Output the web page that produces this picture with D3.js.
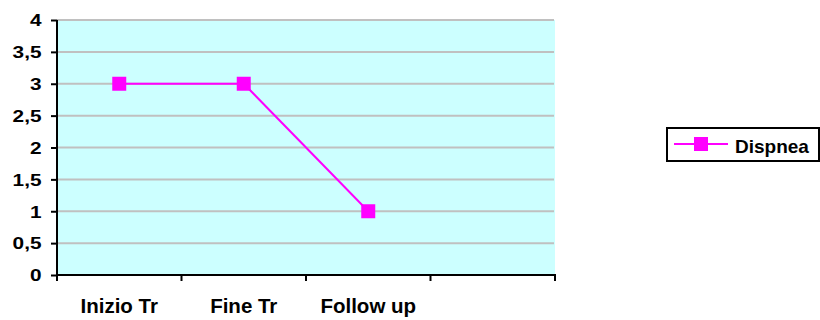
<!DOCTYPE html>
<html>
<head>
<meta charset="utf-8">
<script src="https://cdn.jsdelivr.net/npm/d3@7"></script>
<style>
  html, body { margin: 0; padding: 0; background: #fff; }
  svg { display: block; }
  text { font-family: "Liberation Sans", Arial, sans-serif; font-weight: bold; }
</style>
</head>
<body>
<svg id="chart" width="820" height="320"></svg>
<script>
// Category slots on the x axis (the last slot is left empty)
const categories = ["Inizio Tr", "Fine Tr", "Follow up", ""];
// Dispnea score at each stage
const dispnea = [3, 3, 1];
const seriesName = "Dispnea";
// Y axis tick values and their labels (comma decimal separator)
const yTicks = [0, 0.5, 1, 1.5, 2, 2.5, 3, 3.5, 4];
const yTickLabels = ["0", "0,5", "1", "1,5", "2", "2,5", "3", "3,5", "4"];

const svg = d3.select("#chart");
const plot = { left: 57, right: 555, top: 20, bottom: 275 };
const lineColor = "#FF00FF";

const x = d3.scaleBand().domain(d3.range(categories.length))
  .range([plot.left, plot.right]).paddingInner(0).paddingOuter(0);
const y = d3.scaleLinear().domain([0, 4]).range([plot.bottom, plot.top]);

// Plot background
svg.append("rect")
  .attr("x", plot.left).attr("y", plot.top)
  .attr("width", plot.right - plot.left).attr("height", plot.bottom - plot.top)
  .attr("fill", "#CCFFFF");

// Horizontal gridlines
svg.append("g").selectAll("line")
  .data(yTicks.filter(v => v > 0))
  .join("line")
  .attr("x1", plot.left).attr("x2", plot.right - 1)
  .attr("y1", d => y(d)).attr("y2", d => y(d))
  .attr("stroke", "#C0C0C0").attr("stroke-width", 2);

// Y axis
const yAxis = d3.axisLeft(y)
  .tickValues(yTicks)
  .tickFormat((d, i) => yTickLabels[i])
  .tickSize(6).tickPadding(0);
const gy = svg.append("g").attr("transform", `translate(${plot.left},0)`).call(yAxis);
gy.attr("font-family", null).attr("font-size", null);
gy.select(".domain").attr("stroke", "#000").attr("stroke-width", 2)
  .attr("d", `M0,${plot.top}V${plot.bottom + 1}`);
gy.selectAll(".tick line").attr("stroke", "#000").attr("stroke-width", 2);
// Labels are drawn slightly widened, right-aligned against the tick marks
gy.selectAll(".tick text")
  .attr("x", null).attr("dy", null)
  .attr("fill", "#000")
  .attr("font-size", 16)
  .attr("text-anchor", "end")
  .attr("transform", "translate(-15.5,5.8) scale(1.3,1)");

// X axis: ticks on slot boundaries, labels centred in the slots
const xEdges = d3.range(categories.length + 1).map(i =>
  i < categories.length ? x(i) : x(categories.length - 1) + x.bandwidth());
const gx = svg.append("g");
gx.append("line")
  .attr("x1", plot.left - 1).attr("x2", plot.right + 1)
  .attr("y1", plot.bottom).attr("y2", plot.bottom)
  .attr("stroke", "#000").attr("stroke-width", 2);
gx.selectAll("line.tick")
  .data(xEdges)
  .join("line").attr("class", "tick")
  .attr("x1", d => d).attr("x2", d => d)
  .attr("y1", plot.bottom).attr("y2", plot.bottom + 6)
  .attr("stroke", "#000").attr("stroke-width", 2);
gx.selectAll("text")
  .data(categories)
  .join("text")
  .attr("x", (d, i) => x(i) + x.bandwidth() / 2)
  .attr("y", 312.5)
  .attr("text-anchor", "middle")
  .attr("fill", "#000")
  .attr("font-size", 20.5)
  .text(d => d);

// Series line and markers
const cx = i => x(i) + x.bandwidth() / 2;
const line = d3.line().x((d, i) => cx(i)).y(d => y(d));
svg.append("path")
  .datum(dispnea)
  .attr("d", line)
  .attr("fill", "none")
  .attr("stroke", lineColor)
  .attr("stroke-width", 2);
const ms = 14;
svg.append("g").selectAll("rect")
  .data(dispnea)
  .join("rect")
  .attr("x", (d, i) => cx(i) - ms / 2)
  .attr("y", d => y(d) - ms / 2)
  .attr("width", ms).attr("height", ms)
  .attr("fill", lineColor);

// Legend
const lg = svg.append("g").attr("transform", "translate(667,128)");
lg.append("rect")
  .attr("x", 0).attr("y", 0).attr("width", 152).attr("height", 33)
  .attr("fill", "#fff").attr("stroke", "#000").attr("stroke-width", 2);
lg.append("line")
  .attr("x1", 7).attr("x2", 61).attr("y1", 16).attr("y2", 16)
  .attr("stroke", lineColor).attr("stroke-width", 2);
lg.append("rect")
  .attr("x", 34 - 7).attr("y", 16 - 7).attr("width", 14).attr("height", 14)
  .attr("fill", lineColor);
lg.append("text")
  .attr("x", 68).attr("y", 25)
  .attr("fill", "#000")
  .attr("font-size", 19)
  .text(seriesName);
</script>
</body>
</html>
